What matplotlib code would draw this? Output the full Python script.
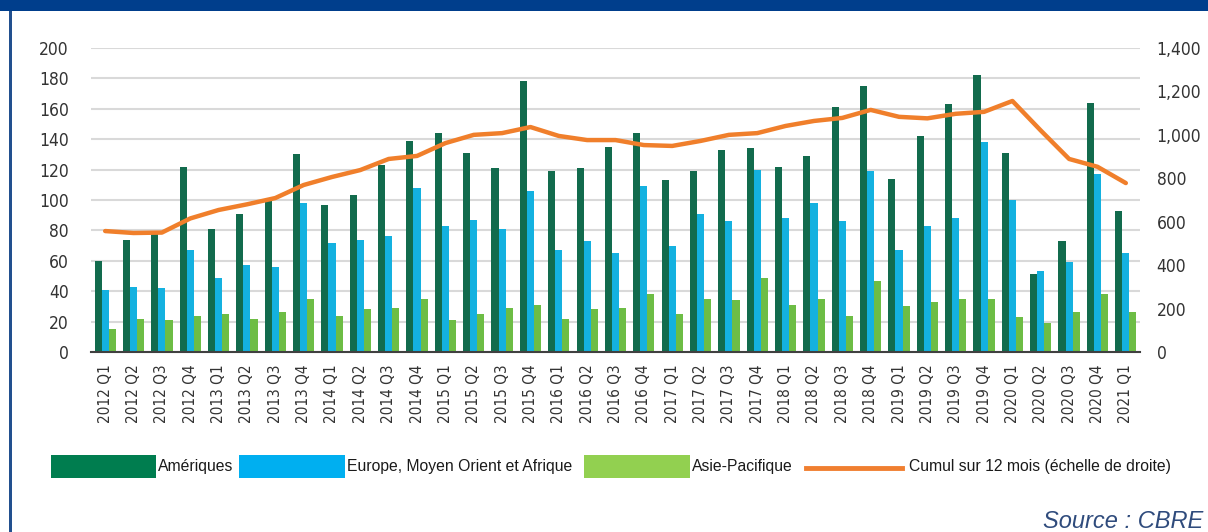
import matplotlib.pyplot as plt
import numpy as np
from matplotlib.patches import Rectangle
from matplotlib.lines import Line2D
from matplotlib.ticker import FuncFormatter

quarters = [f"{year} Q{q}" for year in range(2012, 2021) for q in range(1, 5)] + ["2021 Q1"]

ameriques = [60, 74, 79, 122, 81, 91, 101, 130, 97, 103, 123, 139,
             144, 131, 121, 178, 119, 121, 135, 144, 113, 119, 133, 134,
             122, 129, 161, 175, 114, 142, 163, 182, 131, 51, 73, 164, 93]
emea = [41, 43, 42, 67, 49, 57, 56, 98, 72, 74, 76, 108,
        83, 87, 81, 106, 67, 73, 65, 109, 70, 91, 86, 120,
        88, 98, 86, 119, 67, 83, 88, 138, 100, 53, 59, 117, 65]
asie_pacifique = [15, 22, 21, 24, 25, 22, 26, 35, 24, 28, 29, 35,
                  21, 25, 29, 31, 22, 28, 29, 38, 25, 35, 34, 49,
                  31, 35, 24, 47, 30, 33, 35, 35, 23, 19, 26, 38, 26]
cumul_12m = [557, 548, 550, 615, 654, 680, 709, 769, 806, 838, 889, 903,
             962, 1000, 1008, 1036, 995, 976, 976, 953, 949, 972, 1000, 1008,
             1041, 1064, 1078, 1115, 1083, 1076, 1097, 1106, 1156, 1020, 889, 853, 778]

legend_labels = ["Amériques", "Europe, Moyen Orient et Afrique", "Asie-Pacifique",
                 "Cumul sur 12 mois (échelle de droite)"]

W, H = 1208, 532
NARROW = ["Liberation Sans Narrow", "DejaVu Sans"]


def fx(x):
    return x / W


def fy(y):
    return 1 - y / H


def style_ticks(labels, size):
    for lbl in labels:
        lbl.set_family(NARROW)
        lbl.set_stretch("condensed")
        lbl.set_fontsize(size)
        lbl.set_color("#333333")


fig = plt.figure(figsize=(W / 100, H / 100), dpi=100)

# frame: dark blue band on top, thin line on the left
fig.add_artist(Rectangle((0, fy(11)), 1, 11 / H, transform=fig.transFigure,
                         color="#003e8c", lw=0))
fig.add_artist(Rectangle((fx(9), 0), 2.5 / W, fy(11), transform=fig.transFigure,
                         color="#22508f", lw=0))

ax = fig.add_axes([fx(91), fy(352), (1140 - 91) / W, (352 - 48) / H])
x = np.arange(len(quarters))
bw = 0.25
ax.bar(x - bw, ameriques, bw, color="#126b4d", zorder=3)
ax.bar(x, emea, bw, color="#14b1e0", zorder=3)
ax.bar(x + bw, asie_pacifique, bw, color="#6dbd45", zorder=3)

ax.set_xlim(-0.5, len(quarters) - 0.5)
ax.set_ylim(0, 200)
ax.set_yticks(range(0, 201, 20))
ax.yaxis.grid(True, color="#d9d9d9", lw=1.5, zorder=0)
ax.set_axisbelow(True)
for s in ["top", "right", "left"]:
    ax.spines[s].set_visible(False)
ax.spines["bottom"].set_color("#404040")
ax.spines["bottom"].set_linewidth(1.5)
ax.spines["bottom"].set_zorder(4)
ax.tick_params(length=0)
ax.tick_params(axis="y", pad=16)
ax.tick_params(axis="x", pad=9)
ax.set_xticks(x, quarters, rotation=90)
style_ticks(ax.get_xticklabels(), 11)
style_ticks(ax.get_yticklabels(), 12.5)

ax2 = ax.twinx()
ax2.plot(x, cumul_12m, color="#f07f2b", lw=3.2, solid_joinstyle="round",
         solid_capstyle="round", zorder=5)
ax2.set_ylim(0, 1400)
ax2.set_yticks(range(0, 1401, 200))
ax2.yaxis.set_major_formatter(FuncFormatter(lambda v, p: f"{int(v):,}"))
for s in ax2.spines.values():
    s.set_visible(False)
ax2.tick_params(length=0, pad=12)
style_ticks(ax2.get_yticklabels(), 12.5)

# legend drawn below the chart, Excel style
leg_colors = ["#007d4f", "#00aff0", "#92d050"]
patch_x = [(51, 156), (239, 345), (584, 690)]
for (x0, x1), c, lab in zip(patch_x, leg_colors, legend_labels[:3]):
    fig.add_artist(Rectangle((fx(x0), fy(478)), (x1 - x0) / W, 23 / H,
                             transform=fig.transFigure, color=c, lw=0))
    fig.text(fx(x1 + 2), fy(467), lab, fontsize=11.3, family="Liberation Sans",
             color="#1a1a1a", va="center", ha="left")
fig.add_artist(Line2D([fx(806), fx(902)], [fy(468), fy(468)], transform=fig.transFigure,
                      color="#f07f30", lw=3.5))
fig.text(fx(909), fy(467), legend_labels[3], fontsize=11.3, family="Liberation Sans",
         color="#1a1a1a", va="center", ha="left")

fig.text(fx(1203), fy(521), "Source : CBRE", fontsize=17, style="italic",
         family="Liberation Sans", color="#2f4b7c", va="center", ha="right")

fig.savefig("out.png", dpi=100)
